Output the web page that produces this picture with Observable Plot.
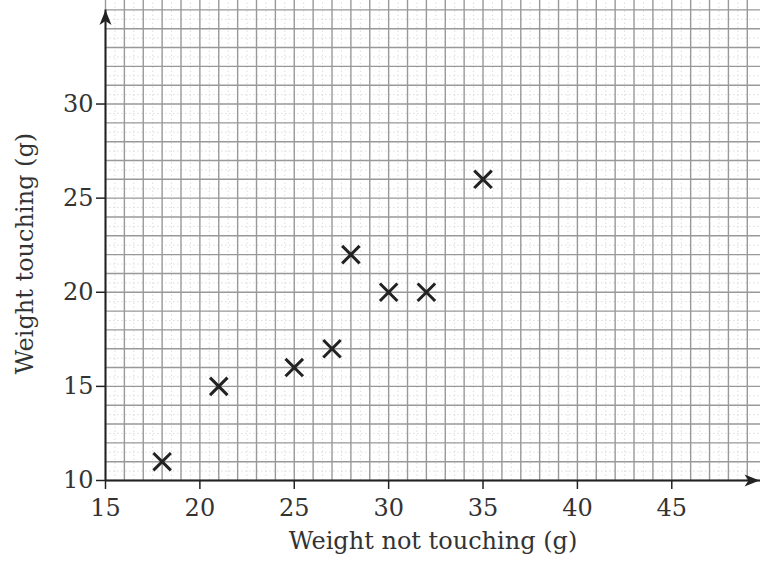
<!DOCTYPE html>
<html>
<head>
<meta charset="utf-8">
<script src="https://cdn.jsdelivr.net/npm/d3@7"></script>
<script src="https://cdn.jsdelivr.net/npm/@observablehq/plot@0.6"></script>
<style>
  html, body { margin: 0; padding: 0; background: #fff; }
</style>
</head>
<body>
<div id="chart"></div>
<script>
// Data
const weightNotTouching = [18, 21, 25, 27, 28, 30, 32, 35];
const weightTouching    = [11, 15, 16, 17, 22, 20, 20, 26];

// Axes
const xTicks = [15, 20, 25, 30, 35, 40, 45];
const yTicks = [10, 15, 20, 25, 30];
const xDomain = [15, 49.7];
const yDomain = [10, 35.5];
const xGridMax = 49;
const yGridMax = 35;
const xLabel = "Weight not touching (g)";
const yLabel = "Weight touching (g)";

const points = weightNotTouching.map((x, i) => ({x, y: weightTouching[i]}));
const xGrid = d3.range(xDomain[0], xGridMax + 1, 1);
const yGrid = d3.range(yDomain[0], yGridMax + 1, 1);
const xMinor = d3.range(xDomain[0] + 0.5, xGridMax + 0.5, 1);
const yMinor = d3.range(yDomain[0] + 0.5, yGridMax, 1);

const arrowUp = {
  draw(ctx) {
    ctx.moveTo(0, 0);
    ctx.lineTo(6, 15);
    ctx.lineTo(0, 11);
    ctx.lineTo(-6, 15);
    ctx.closePath();
  }
};
const arrowRight = {
  draw(ctx) {
    ctx.moveTo(0, 0);
    ctx.lineTo(-15, 6);
    ctx.lineTo(-11, 0);
    ctx.lineTo(-15, -6);
    ctx.closePath();
  }
};

const font = "DejaVu Serif";
const chart = Plot.plot({
  width: 760,
  height: 567,
  marginLeft: 105,
  marginRight: 0,
  marginTop: 0,
  marginBottom: 87,
  x: {domain: xDomain, axis: null},
  y: {domain: yDomain, axis: null},
  style: {fontFamily: font, background: "#fff", color: "#333"},
  marks: [
    Plot.ruleX(xMinor, {y1: yDomain[0], y2: yDomain[1], stroke: "#ddd", strokeWidth: 1, strokeDasharray: "1.5,2.5"}),
    Plot.ruleY(yMinor, {x1: xDomain[0], x2: xDomain[1], stroke: "#ddd", strokeWidth: 1, strokeDasharray: "1.5,2.5"}),
    Plot.ruleX(xGrid, {y1: yDomain[0], y2: yDomain[1], stroke: "#999", strokeWidth: 1.4}),
    Plot.ruleY(yGrid, {x1: xDomain[0], x2: xDomain[1], stroke: "#999", strokeWidth: 1.4}),
    Plot.ruleY([yDomain[0]], {x1: xDomain[0], x2: xDomain[1], stroke: "#222", strokeWidth: 2}),
    Plot.ruleX([xDomain[0]], {y1: yDomain[0], y2: yGridMax, stroke: "#222", strokeWidth: 2}),
    Plot.dot([{x: xDomain[0], y: yGridMax}], {x: "x", y: "y", symbol: arrowUp, fill: "#222", stroke: "none"}),
    Plot.dot([{x: xDomain[1], y: yDomain[0]}], {x: "x", y: "y", symbol: arrowRight, fill: "#222", stroke: "none", dx: -1}),
    Plot.axisX(xTicks, {anchor: "bottom", tickSize: 9, tickPadding: 9, fontSize: 24, stroke: "#222", strokeWidth: 1.5, fill: "#333", label: null}),
    Plot.axisY(yTicks, {anchor: "left", tickSize: 9, tickPadding: 3, fontSize: 24, stroke: "#222", strokeWidth: 1.5, fill: "#333", label: null}),
    Plot.text([xLabel], {frameAnchor: "bottom", dy: 68, fontSize: 24, fill: "#333", text: d => d}),
    Plot.text([yLabel], {frameAnchor: "left", textAnchor: "middle", dx: -80, dy: 13, rotate: -90, fontSize: 24, fill: "#333", text: d => d}),
    Plot.dot(points, {x: "x", y: "y", symbol: "times", r: 8, stroke: "#222", strokeWidth: 3})
  ]
});
document.getElementById("chart").appendChild(chart);
</script>
</body>
</html>
